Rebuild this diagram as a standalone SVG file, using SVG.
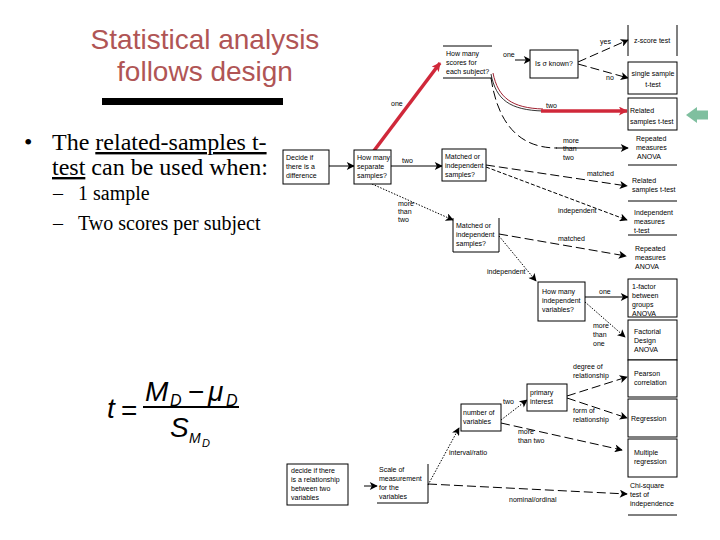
<svg xmlns="http://www.w3.org/2000/svg" width="720" height="540" viewBox="0 0 720 540">
<defs>
<marker id="ah" viewBox="0 0 10 10" refX="9" refY="5" markerWidth="9" markerHeight="8" markerUnits="userSpaceOnUse" orient="auto"><path d="M0,0 L10,5 L0,10 L2.5,5 z" fill="#000"/></marker>
<marker id="ahr" viewBox="0 0 10 10" refX="9" refY="5" markerWidth="10" markerHeight="9" markerUnits="userSpaceOnUse" orient="auto"><path d="M0,0 L10,5 L0,10 L2.5,5 z" fill="#d0283a"/></marker>
</defs>
<style>
.bx{fill:#fff;stroke:#000;stroke-width:1}
.ln{fill:none;stroke:#000;stroke-width:1}
.t{font-family:"Liberation Sans",Arial,sans-serif;font-size:7px;fill:#000}
.c{text-anchor:middle}
.c1{fill:none;stroke:#000;stroke-width:1;marker-end:url(#ah)}
.dash{stroke-dasharray:9 4}
.dot{stroke-dasharray:1.5 1.5}
.sdash{stroke-dasharray:4 2}
.ser{font-family:"Liberation Serif","Times New Roman",serif;fill:#000}
.fm{font-family:"Liberation Sans",Arial,sans-serif;font-style:italic;fill:#000}
.fr{font-family:"Liberation Sans",Arial,sans-serif;fill:#000}
</style>
<rect width="720" height="540" fill="#fff"/>

<g id="title">
<text x="205" y="49" font-family="Liberation Sans, Arial, sans-serif" font-size="28" fill="#b05555" text-anchor="middle">Statistical analysis</text>
<text x="205" y="81" font-family="Liberation Sans, Arial, sans-serif" font-size="28" fill="#b05555" text-anchor="middle">follows design</text>
<rect x="102" y="98" width="181" height="7" fill="#000"/>
</g>

<g id="bullets">
<text class="ser" x="24" y="150" font-size="24">•</text>
<text class="ser" x="52" y="150" font-size="24">The <tspan text-decoration="underline">related-samples t-</tspan></text>
<text class="ser" x="52" y="175" font-size="24"><tspan text-decoration="underline">test</tspan> can be used when:</text>
<text class="ser" x="53" y="200" font-size="20">–</text>
<text class="ser" x="78" y="200" font-size="20">1 sample</text>
<text class="ser" x="53" y="230" font-size="20">–</text>
<text class="ser" x="78" y="230" font-size="20">Two scores per subject</text>
</g>

<g id="formula">
<text class="fm" x="107" y="418" font-size="28">t</text>
<text class="fr" x="121" y="420" font-size="28">=</text>
<rect x="143" y="406" width="96" height="2" fill="#000"/>
<text class="fm" x="145" y="401" font-size="28">M</text>
<text class="fm" x="170" y="406" font-size="16">D</text>
<text class="fr" x="188" y="401" font-size="28">−</text>
<text class="fm" x="208" y="401" font-size="28">μ</text>
<text class="fm" x="226" y="406" font-size="16">D</text>
<text class="fm" x="170" y="437" font-size="28">S</text>
<text class="fm" x="189" y="443" font-size="14">M</text>
<text class="fm" x="202" y="447" font-size="11">D</text>
</g>

<g id="connectors">
<line class="c1" x1="329" y1="166" x2="354" y2="166"/>
<line class="c1" x1="391" y1="166" x2="442" y2="166"/>
<line x1="373" y1="152" x2="440" y2="63" stroke="#d0283a" stroke-width="3.5" marker-end="url(#ahr)"/>
<line class="c1" x1="515" y1="60" x2="531" y2="60"/>
<line class="c1 dash" x1="578" y1="62" x2="628" y2="40"/>
<line class="c1 dash" x1="578" y1="64" x2="628" y2="78"/>
<path d="M491,74 C496,100 510,110 543,111" fill="none" stroke="#000" stroke-width="0.8"/>
<path d="M493,73 C498,98 512,108 543,109" fill="none" stroke="#a02030" stroke-width="1"/>
<line x1="541" y1="111" x2="627" y2="111" stroke="#d0283a" stroke-width="3.5" marker-end="url(#ahr)"/>
<path class="ln dash" d="M491,78 C497,118 515,148 557,148"/>
<line class="c1" x1="556" y1="148" x2="628" y2="148"/>
<line class="c1 dash" x1="486" y1="165" x2="627" y2="186"/>
<line class="c1 sdash" x1="486" y1="167" x2="627" y2="220"/>
<line class="c1 dot" x1="372" y1="184" x2="453" y2="220"/>
<line class="c1 dash" x1="499" y1="234" x2="626" y2="256"/>
<line class="c1 dot" x1="499" y1="236" x2="536" y2="281"/>
<line class="c1" x1="585" y1="297" x2="628" y2="297"/>
<line class="c1 dot" x1="585" y1="302" x2="625" y2="337"/>
<line class="c1" x1="364" y1="486" x2="377" y2="486"/>
<line class="c1 dot" x1="428" y1="485" x2="459" y2="428"/>
<line class="c1 dash" x1="428" y1="484" x2="627" y2="494"/>
<line class="c1 dot" x1="501" y1="420" x2="527" y2="400"/>
<line class="c1 dash" x1="567" y1="396" x2="627" y2="377"/>
<line class="c1 dash" x1="567" y1="398" x2="627" y2="418"/>
<line class="c1 dash" x1="501" y1="423" x2="622" y2="450"/>
<g class="t">
<text x="391" y="106">one</text>
<text x="503" y="57">one</text>
<text x="402" y="163">two</text>
<text x="600" y="44">yes</text>
<text x="606" y="80">no</text>
<text x="546" y="108">two</text>
<text x="563" y="143">more</text>
<text x="563" y="151">than</text>
<text x="563" y="160">two</text>
<text x="587" y="176">matched</text>
<text x="558" y="213">independent</text>
<text x="398" y="206">more</text>
<text x="398" y="214">than</text>
<text x="398" y="222">two</text>
<text x="558" y="241">matched</text>
<text x="487" y="274">independent</text>
<text x="599" y="294">one</text>
<text x="593" y="328">more</text>
<text x="593" y="337">than</text>
<text x="593" y="346">one</text>
<text x="449" y="455">interval/ratio</text>
<text x="509" y="502">nominal/ordinal</text>
<text x="503" y="404">two</text>
<text x="573" y="369">degree of</text>
<text x="573" y="378">relationship</text>
<text x="573" y="413">form of</text>
<text x="573" y="422">relationship</text>
<text x="518" y="434">more</text>
<text x="518" y="443">than two</text>
</g>
</g>

<g id="n-decide">
<rect class="bx" x="283" y="150" width="46" height="34"/>
<text class="t" x="286" y="160">Decide if</text>
<text class="t" x="286" y="169">there is a</text>
<text class="t" x="286" y="178">difference</text>
</g>
<g id="n-separate">
<rect class="bx" x="354" y="150" width="37" height="34"/>
<text class="t" x="357" y="160">How many</text>
<text class="t" x="357" y="169">separate</text>
<text class="t" x="357" y="178">samples?</text>
</g>
<g id="n-matched1">
<rect class="bx" x="442" y="149" width="44" height="32"/>
<text class="t" x="445" y="159">Matched or</text>
<text class="t" x="445" y="168">independent</text>
<text class="t" x="445" y="177">samples?</text>
</g>
<g id="n-scores">
<line class="ln" x1="443" y1="46" x2="492" y2="46"/>
<line class="ln" x1="443" y1="78" x2="492" y2="78"/>
<text class="t" x="446" y="56">How many</text>
<text class="t" x="446" y="65">scores for</text>
<text class="t" x="446" y="74">each subject?</text>
</g>
<g id="n-sigma">
<rect class="bx" x="530" y="50" width="48" height="28"/>
<text class="t c" x="554" y="66">Is σ known?</text>
</g>
<g id="n-ztest">
<line class="ln" x1="628" y1="25" x2="628" y2="56"/>
<line class="ln" x1="677" y1="25" x2="677" y2="56"/>
<text class="t" x="634" y="43">z-score test</text>
</g>
<g id="n-single">
<rect class="bx" x="628" y="62" width="49" height="32"/>
<text class="t c" x="653" y="76">single sample</text>
<text class="t c" x="653" y="87">t-test</text>
</g>
<g id="n-related">
<rect class="bx" x="628" y="98" width="49" height="32"/>
<text class="t" x="630" y="113">Related</text>
<text class="t" x="630" y="124">samples t-test</text>
</g>
<g id="pointer">
<path d="M686,115 L697,107 L697,110.5 L708,110.5 L708,119.5 L697,119.5 L697,123 Z" fill="#7fbf9f"/>
</g>
<g id="n-rmanova1">
<line class="ln" x1="628" y1="165" x2="677" y2="165"/>
<text class="t" x="636" y="141">Repeated</text>
<text class="t" x="636" y="150">measures</text>
<text class="t" x="637" y="159">ANOVA</text>
</g>
<g id="n-relttest">
<line class="ln" x1="628" y1="201" x2="677" y2="201"/>
<text class="t" x="632" y="183">Related</text>
<text class="t" x="632" y="192">samples t-test</text>
</g>
<g id="n-indttest">
<line class="ln" x1="628" y1="235" x2="677" y2="235"/>
<text class="t" x="634" y="215">Independent</text>
<text class="t" x="634" y="224">measures</text>
<text class="t" x="634" y="233">t-test</text>
</g>
<g id="n-rmanova2">
<text class="t" x="635" y="251">Repeated</text>
<text class="t" x="635" y="260">measures</text>
<text class="t" x="635" y="269">ANOVA</text>
</g>
<g id="n-1factor">
<rect class="bx" x="628" y="279" width="49" height="38"/>
<text class="t" x="632" y="289">1-factor</text>
<text class="t" x="632" y="298">between</text>
<text class="t" x="632" y="307">groups</text>
<text class="t" x="632" y="316">ANOVA</text>
</g>
<g id="n-factorial">
<rect class="bx" x="628" y="320" width="49" height="40"/>
<text class="t" x="634" y="334">Factorial</text>
<text class="t" x="634" y="343">Design</text>
<text class="t" x="634" y="352">ANOVA</text>
</g>
<g id="n-pearson">
<rect class="bx" x="628" y="360" width="49" height="37"/>
<text class="t" x="634" y="376">Pearson</text>
<text class="t" x="634" y="385">correlation</text>
</g>
<g id="n-regression">
<rect class="bx" x="628" y="399" width="49" height="38"/>
<text class="t" x="631" y="421">Regression</text>
</g>
<g id="n-multiple">
<rect class="bx" x="628" y="439" width="49" height="38"/>
<text class="t" x="634" y="455">Multiple</text>
<text class="t" x="634" y="464">regression</text>
</g>
<g id="n-chisq">
<line class="ln" x1="628" y1="515" x2="677" y2="515"/>
<text class="t" x="630" y="488">Chi-square</text>
<text class="t" x="630" y="497">test of</text>
<text class="t" x="630" y="506">independence</text>
</g>
<g id="n-indvars">
<rect class="bx" x="538" y="282" width="47" height="39"/>
<text class="t" x="542" y="294">How many</text>
<text class="t" x="542" y="303">independent</text>
<text class="t" x="542" y="312">variables?</text>
</g>
<g id="n-matched2">
<path class="ln" d="M453,218 V252 H499 V218"/>
<text class="t" x="456" y="228">Matched or</text>
<text class="t" x="456" y="237">independent</text>
<text class="t" x="456" y="246">samples?</text>
</g>
<g id="n-relationship">
<rect class="bx" x="287" y="464" width="61" height="41"/>
<text class="t" x="291" y="473">decide if there</text>
<text class="t" x="291" y="482">is a relationship</text>
<text class="t" x="291" y="491">between two</text>
<text class="t" x="291" y="500">variables</text>
</g>
<g id="n-scale">
<path class="ln" d="M428,464 V503 H377"/>
<text class="t" x="379" y="472">Scale of</text>
<text class="t" x="379" y="481">measurement</text>
<text class="t" x="379" y="490">for the</text>
<text class="t" x="379" y="499">variables</text>
</g>
<g id="n-numvars">
<rect class="bx" x="461" y="404" width="40" height="27"/>
<text class="t" x="463" y="415">number of</text>
<text class="t" x="463" y="424">variables</text>
</g>
<g id="n-primary">
<rect class="bx" x="527" y="384" width="40" height="27"/>
<text class="t" x="530" y="395">primary</text>
<text class="t" x="530" y="404">interest</text>
</g>
</svg>
